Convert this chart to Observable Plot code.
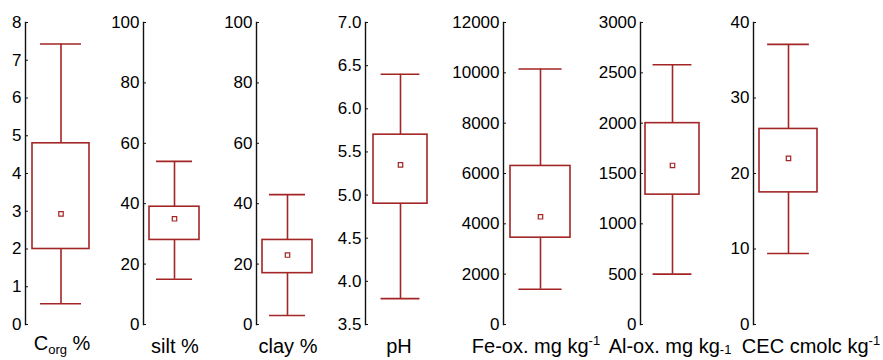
<!DOCTYPE html>
<html><head><meta charset="utf-8">
<script src="https://cdn.jsdelivr.net/npm/d3@7"></script>
<script src="https://cdn.jsdelivr.net/npm/@observablehq/plot@0.6"></script>
<style>
body{margin:0;background:#fff;}
#chart{position:relative;width:883px;height:360px;overflow:hidden;font-family:"Liberation Sans",Arial,sans-serif;}
#chart svg{position:absolute;top:0;}
</style></head><body><div id="chart"></div>
<script>
// ---- data ----
const variables = ["Corg","silt","clay","pH","Fe-ox","Al-ox","CEC"];
const whiskerLow  = [0.55, 15, 3, 3.8, 1400, 500, 9.4];
const q1          = [2.0, 28, 17, 4.9, 3450, 1290, 17.5];
const means       = [2.93, 35, 23, 5.35, 4280, 1580, 22.0];
const q3          = [4.8, 39, 28, 5.7, 6300, 2000, 25.9];
const whiskerHigh = [7.43, 54, 43, 6.4, 10150, 2580, 37.1];
const axisMin = [0, 0, 0, 3.5, 0, 0, 0];
const axisMax = [8, 100, 100, 7, 12000, 3000, 40];
const tickStep = [1, 20, 20, 0.5, 2000, 500, 10];
const tickFormats = ["d","d","d",".1f","d","d","d"];
// axis titles: [text, role]
const labelParts = [
  [["C",""],["org","sub"],[" %",""]],
  [["silt %",""]],
  [["clay %",""]],
  [["pH",""]],
  [["Fe-ox. mg kg",""],["-1","sup"]],
  [["Al-ox. mg kg",""],["-1","low"]],
  [["CEC cmolc kg",""],["-1","sup"]]
];

// ---- layout ----
const axisX    = [25, 143, 256, 365, 503, 640, 753];
const boxLeft  = [32, 149, 262, 373, 510, 645, 759];
const boxRight = [89, 199, 312, 427, 570, 699, 817];
const labelX   = [62, 175, 288, 399, 536, 670, 811];
const red = "#a32525";
const font = "'Liberation Sans', Arial, sans-serif";

const chart = document.getElementById("chart");

variables.forEach((v, i) => {
  const ml = 60;
  const left = axisX[i] - ml;
  const w = boxRight[i] - left + 6;
  const ticks = d3.range(axisMin[i], axisMax[i] + tickStep[i] / 2, tickStep[i]);
  const fmt = d3.format(tickFormats[i]);
  const row = [{v, lo: whiskerLow[i], q1: q1[i], m: means[i], q3: q3[i], hi: whiskerHigh[i]}];
  const bw = boxRight[i] - boxLeft[i];
  const capInset = bw * 0.14;
  const p = Plot.plot({
    width: w, height: 360,
    marginLeft: ml, marginRight: 6, marginTop: 22, marginBottom: 36,
    style: {background: "transparent", overflow: "visible", fontFamily: font, fontSize: "17px", color: "#000"},
    x: {type: "band", domain: [v], range: [boxLeft[i] - left, boxRight[i] - left], padding: 0, axis: null},
    y: {domain: [axisMin[i], axisMax[i]]},
    marks: [
      Plot.frame({anchor: "left", stroke: "#111", strokeWidth: 1.4}),
      Plot.axisY({ticks, tickFormat: fmt, tickSize: -3, tickPadding: 7, fontSize: 17, stroke: "#111", color: "#000", fill: "#000"}),
      Plot.ruleX(row, {x: "v", y1: "lo", y2: "q1", stroke: red, strokeWidth: 1.6}),
      Plot.ruleX(row, {x: "v", y1: "q3", y2: "hi", stroke: red, strokeWidth: 1.6}),
      Plot.tickY(row, {x: "v", y: "lo", inset: capInset, stroke: red, strokeWidth: 1.6}),
      Plot.tickY(row, {x: "v", y: "hi", inset: capInset, stroke: red, strokeWidth: 1.6}),
      Plot.barY(row, {x: "v", y1: "q1", y2: "q3", fill: "white", stroke: red, strokeWidth: 1.6}),
      Plot.dot(row, {x: "v", y: "m", symbol: "square", r: 2.5, stroke: red, fill: "white", strokeWidth: 1.2})
    ]
  });
  p.style.left = left + "px";
  chart.appendChild(p);
});

// axis titles overlay
const overlay = d3.select(chart).append("svg")
  .attr("width", 883).attr("height", 360)
  .style("left", "0px").style("pointer-events", "none");
const shifts = {sub: 4, low: 1, sup: -8};
labelParts.forEach((parts, i) => {
  const t = overlay.append("text")
    .attr("x", labelX[i]).attr("y", i === 0 ? 350 : 353)
    .attr("text-anchor", "middle")
    .attr("font-family", font).attr("font-size", 20).attr("fill", "#000");
  let shift = 0;
  parts.forEach(([txt, role]) => {
    const target = role ? shifts[role] : 0;
    const s = t.append("tspan").attr("dy", target - shift).text(txt);
    if (role) s.attr("font-size", 13);
    shift = target;
  });
});
</script></body></html>
